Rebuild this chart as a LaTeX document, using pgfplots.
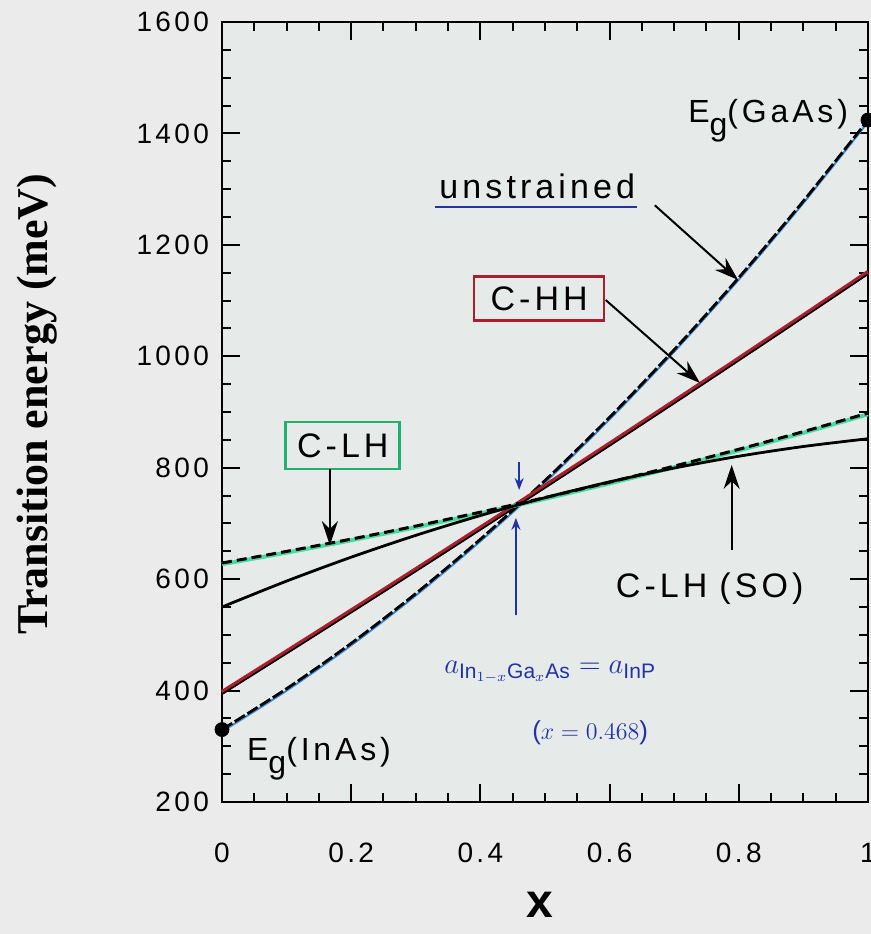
\documentclass[border=0pt]{standalone}
\usepackage{fontspec}
\setmainfont{Liberation Sans}
\newfontfamily\tickfont[LetterSpace=12]{Liberation Sans}
\newfontfamily\serifb{Liberation Serif}
\usepackage{pgfplots}
\pgfplotsset{compat=1.18}
\usetikzlibrary{arrows.meta}
\definecolor{pagebg}{HTML}{EBEBEB}
\definecolor{plotbg}{HTML}{E6EBE9}
\definecolor{unsblue}{HTML}{3A8FD8}
\definecolor{penblue}{HTML}{2232A8}
\definecolor{hhred}{HTML}{A8202E}
\definecolor{lhgreen}{HTML}{45DCA5}
\definecolor{boxgreen}{HTML}{22B070}

\newcommand{\lab}[1]{\tickfont\fontsize{17}{17}\selectfont #1}

\begin{document}
\begin{tikzpicture}
\fill[pagebg] (-111pt,-66pt) rectangle (324.5pt,401pt);
\begin{axis}[
    scale only axis, width=323pt, height=390pt,
    xmin=0, xmax=1, ymin=200, ymax=1600,
    xtick={0,0.2,0.4,0.6,0.8,1}, ytick={200,400,600,800,1000,1200,1400,1600},
    minor x tick num=3, minor y tick num=3,
    tick align=inside, major tick length=9pt, minor tick length=4.5pt,
    every tick/.style={black, line width=1pt},
    axis line style={line width=1.2pt},
    axis background/.style={fill=plotbg},
    ticklabel style={font=\tickfont\fontsize{14}{14}\selectfont},
    /pgf/number format/assume math mode=true,
    /pgf/number format/1000 sep={},
    xticklabel style={yshift=-17pt},
    yticklabel style={xshift=-3pt},
    xlabel={\bfseries x},
    xlabel style={font=\fontsize{24}{24}\selectfont, at={(axis description cs:0.492,-0.132)}, anchor=center},
    ylabel={\serifb\bfseries Transition energy (meV)},
    ylabel style={font=\fontsize{22}{22}\selectfont, at={(axis description cs:-0.286,0.51)}, anchor=center},
    clip=false]

  % unstrained
  \addplot[unsblue, line width=1pt, smooth, yshift=-1pt] coordinates {
    (0,330)(0.1,403.4)(0.2,484.8)(0.3,574.2)(0.4,671.6)(0.5,777)
    (0.6,890.4)(0.7,1011.8)(0.8,1141.2)(0.9,1278.6)(1,1424)};
  \addplot[black, line width=1.4pt, smooth, dash pattern=on 6pt off 1.5pt] coordinates {
    (0,330)(0.1,403.4)(0.2,484.8)(0.3,574.2)(0.4,671.6)(0.5,777)
    (0.6,890.4)(0.7,1011.8)(0.8,1141.2)(0.9,1278.6)(1,1424)};

  % C-HH
  \addplot[hhred, line width=2.2pt, smooth] coordinates {
    (0,397)(0.1,470)(0.2,543.5)(0.3,617.5)(0.4,692.1)(0.5,767.3)
    (0.6,842.9)(0.7,919.1)(0.8,995.9)(0.9,1073.2)(1,1151)};
  \addplot[black, line width=0.8pt, smooth, yshift=-1pt] coordinates {
    (0,397)(0.1,470)(0.2,543.5)(0.3,617.5)(0.4,692.1)(0.5,767.3)
    (0.6,842.9)(0.7,919.1)(0.8,995.9)(0.9,1073.2)(1,1151)};

  % C-LH
  \addplot[lhgreen, line width=2pt, smooth, yshift=-0.6pt] coordinates {
    (0,629)(0.1,649.8)(0.2,671.9)(0.3,695.3)(0.4,720.2)(0.5,746.4)
    (0.6,774)(0.7,802.9)(0.8,833.1)(0.9,864.8)(1,898)};
  \addplot[black, line width=1.5pt, smooth, dash pattern=on 5pt off 2.5pt] coordinates {
    (0,629)(0.1,649.8)(0.2,671.9)(0.3,695.3)(0.4,720.2)(0.5,746.4)
    (0.6,774)(0.7,802.9)(0.8,833.1)(0.9,864.8)(1,898)};

  % C-LH (SO)
  \addplot[black, line width=1.4pt, smooth] coordinates {
    (0,550)(0.1,596.5)(0.2,639.4)(0.3,678.6)(0.4,714.2)(0.5,746.2)
    (0.6,774.6)(0.7,799.4)(0.8,820.6)(0.9,838.1)(1,852)};

  % band gaps of the binaries
  \addplot[only marks, mark=*, mark size=3.5pt, black] coordinates {(0,330)(1,1424)};

  % labels and arrows
  \node[font=\lab{}] at (axis cs:0.488,1305) {unstrained};
  \draw[penblue, line width=1pt] (axis cs:0.330,1268) -- (axis cs:0.642,1268);
  \draw[black, line width=1pt, -{Stealth[length=12pt,width=8pt]}]
    (axis cs:0.670,1271) -- (axis cs:0.799,1137);

  \node[draw=hhred, line width=1.3pt, fill=plotbg, minimum width=65pt, minimum height=22pt,
        inner sep=0pt, font=\lab{}] (hh) at (axis cs:0.491,1104) {C-HH};
  \draw[black, line width=1pt, -{Stealth[length=12pt,width=8pt]}]
    (axis cs:0.594,1101) -- (axis cs:0.740,952);

  \node[draw=boxgreen, line width=1.3pt, fill=plotbg, minimum width=57pt, minimum height=23.5pt,
        inner sep=0pt, font=\lab{}] at (axis cs:0.187,840) {C-LH};
  \draw[black, line width=1pt, -{Stealth[length=12pt,width=8pt]}]
    (axis cs:0.167,798) -- (axis cs:0.167,661);

  \node[font=\lab{}] at (axis cs:0.755,582) {C-LH\hspace{0.35em}(SO)};
  \draw[black, line width=1pt, -{Stealth[length=12pt,width=8pt]}]
    (axis cs:0.789,652) -- (axis cs:0.789,805);

  \draw[penblue, line width=0.9pt, -{Stealth[length=6pt,width=4.5pt]}]
    (axis cs:0.460,810) -- (axis cs:0.460,760);
  \draw[penblue, line width=0.9pt, -{Stealth[length=6pt,width=4.5pt]}]
    (axis cs:0.455,535) -- (axis cs:0.455,710);
  \node[penblue, font=\fontsize{15}{15}\selectfont] at (axis cs:0.508,433)
    {$a_{\mathrm{In}_{1-x}\mathrm{Ga}_{x}\mathrm{As}}=a_{\mathrm{InP}}$};
  \node[penblue, font=\fontsize{13}{13}\selectfont] at (axis cs:0.570,324) {($x=0.468$)};

  \node[anchor=base east, font=\tickfont\fontsize{16}{16}\selectfont] at (axis cs:0.980,1419)
    {E\raisebox{-0.4em}{g}(GaAs)};
  \node[anchor=base west, font=\tickfont\fontsize{16}{16}\selectfont] at (axis cs:0.028,275)
    {E\raisebox{-0.4em}{g}(InAs)};
\end{axis}
\pgfresetboundingbox
\useasboundingbox (-111pt,-66pt) rectangle (324.5pt,401pt);
\end{tikzpicture}
\end{document}
